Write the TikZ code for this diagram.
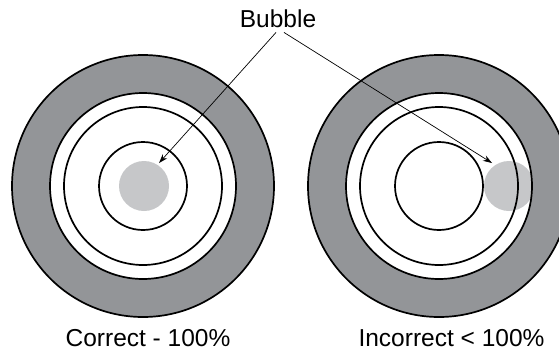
\documentclass[tikz,border=0pt]{standalone}
\usepackage{fontspec}
\setmainfont{Liberation Sans}
\usetikzlibrary{arrows.meta}
\definecolor{ringgray}{HTML}{939598}
\definecolor{bubblegray}{HTML}{C6C7C9}
\tikzset{
  ring/.style={draw=black, line width=1.7pt},
  lbl/.style={anchor=base, inner sep=0pt, font=\fontsize{24.5}{28}\selectfont},
  pointer/.style={draw=black, line width=0.7pt, -{Stealth[length=9pt,width=6pt]}}
}
\begin{document}
\begin{tikzpicture}[x=1pt,y=-1pt]
\useasboundingbox (0,0) rectangle (559,351);
\clip (0,0) rectangle (559,351);
% left target
\fill[ringgray] (143,186) circle (131);
\fill[white] (143,186) circle (93);
\node[circle, fill=bubblegray, minimum size=50pt, inner sep=0pt] (bubL) at (144,186) {};
\draw[ring] (143,186) circle (131);
\draw[ring] (143,186) circle (93);
\draw[ring] (143,186) circle (79);
\draw[ring] (143,186) circle (44);
% right target
\fill[ringgray] (439,186) circle (131);
\fill[white] (439,186) circle (93);
\begin{scope}
\clip (439,186) circle (93);
\node[circle, fill=bubblegray, minimum size=50pt, inner sep=0pt] (bubR) at (509,186) {};
\end{scope}
\draw[ring] (439,186) circle (131);
\draw[ring] (439,186) circle (93);
\draw[ring] (439,186) circle (79);
\draw[ring] (439,186) circle (44);
% labels
\node[lbl] (bubble) at (278,27) {Bubble};
\node[lbl] (correct) at (148,346) {Correct - 100\%};
\node[lbl] (incorrect) at (451.5,346) {Incorrect < 100\%};
% pointers
\coordinate (tipL) at (159,163);
\coordinate (tipR) at (492,163);
\coordinate (startL) at ([xshift=-2pt,yshift=-5pt]bubble.south);
\coordinate (startR) at ([xshift=6pt,yshift=-5pt]bubble.south);
\draw[pointer] (startL) -- (tipL);
\draw[pointer] (startR) -- (tipR);
\end{tikzpicture}
\end{document}
